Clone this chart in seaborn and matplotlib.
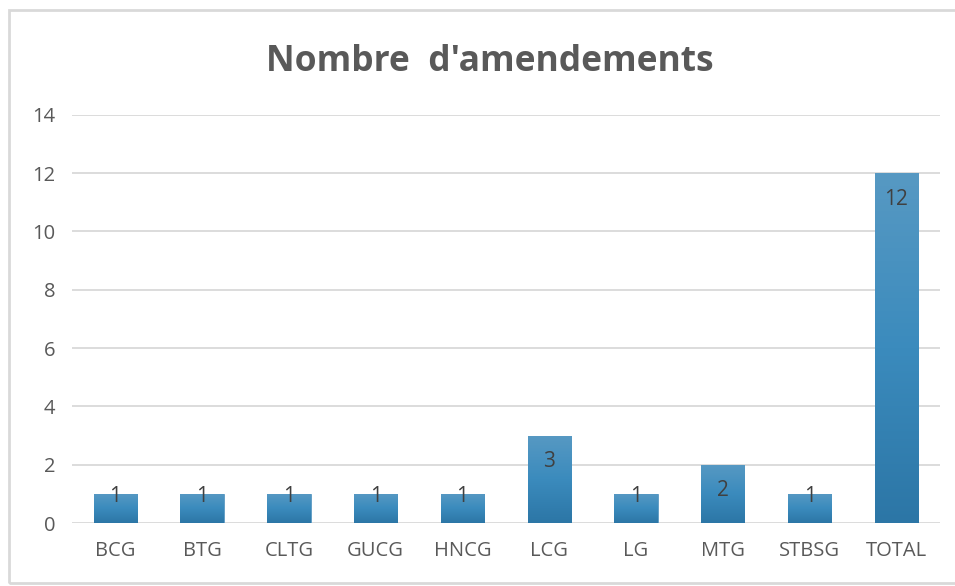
import matplotlib
matplotlib.use("Agg")
import matplotlib.pyplot as plt
import matplotlib.patches as mpatches
import numpy as np
import pandas as pd
import seaborn as sns

groups = ['BCG', 'BTG', 'CLTG', 'GUCG', 'HNCG', 'LCG', 'LG', 'MTG', 'STBSG', 'TOTAL']
amendements = [1, 1, 1, 1, 1, 3, 1, 2, 1, 12]
title = "Nombre  d'amendements"

df = pd.DataFrame({'groupe': groups, 'n': amendements})

sns.set_theme(style='white')
plt.rcParams['font.family'] = ['Open Sans', 'DejaVu Sans']

fig = plt.figure(figsize=(9.55, 5.86), dpi=100)
ax = fig.add_axes([0.0754, 0.1075, 0.9086, 0.6965])

sns.barplot(data=df, x='groupe', y='n', color='#3a86b5', width=0.5, ax=ax)

# vertical gradient on each bar (lighter top, darker bottom)
grad = np.linspace(0, 1, 256).reshape(-1, 1)
cmap = matplotlib.colors.LinearSegmentedColormap.from_list('g', ['#2c76a6', '#3b8bbd', '#5799c3'])
for bar in ax.patches:
    x0, y0 = bar.get_x(), bar.get_y()
    w, h = bar.get_width(), bar.get_height()
    im = ax.imshow(grad, extent=[x0, x0 + w, y0, y0 + h], origin='lower',
                   aspect='auto', cmap=cmap, zorder=3)
    im.set_clip_path(bar)
    bar.set_edgecolor('#5c9cc6')
    bar.set_linewidth(0.6)

# labels "inside end" like the original
for i, v in enumerate(amendements):
    off = 0.9 if v > 1 else 0.1
    ax.text(i, v - off, str(v), ha='center', va='center', fontsize=15,
            color='#404040', zorder=4)

ax.set_xlim(-0.5, len(groups) - 0.5)
ax.set_ylim(0, 14)
ax.set_yticks(range(0, 15, 2))
ax.grid(axis='y', color='#d9d9d9', linewidth=1.3, zorder=0)
ax.set_axisbelow(True)
for s in ax.spines.values():
    s.set_visible(False)
ax.tick_params(axis='both', length=0, labelsize=14.5, labelcolor='#595959')
ax.tick_params(axis='y', pad=12)
ax.tick_params(axis='x', pad=13)
ax.set_xlabel('')
ax.set_ylabel('')

fig.text(0.513, 0.895, title, ha='center', va='center', fontsize=25.5,
         fontweight='bold', color='#595959')

# outer chart frame
fig.patches.append(mpatches.Rectangle((9 / 955, 3 / 586), 1.2, 1 - 13 / 586,
                                      transform=fig.transFigure, fill=False,
                                      edgecolor='#d9d9d9', linewidth=2))

fig.savefig('out.png', dpi=100, facecolor='white')
